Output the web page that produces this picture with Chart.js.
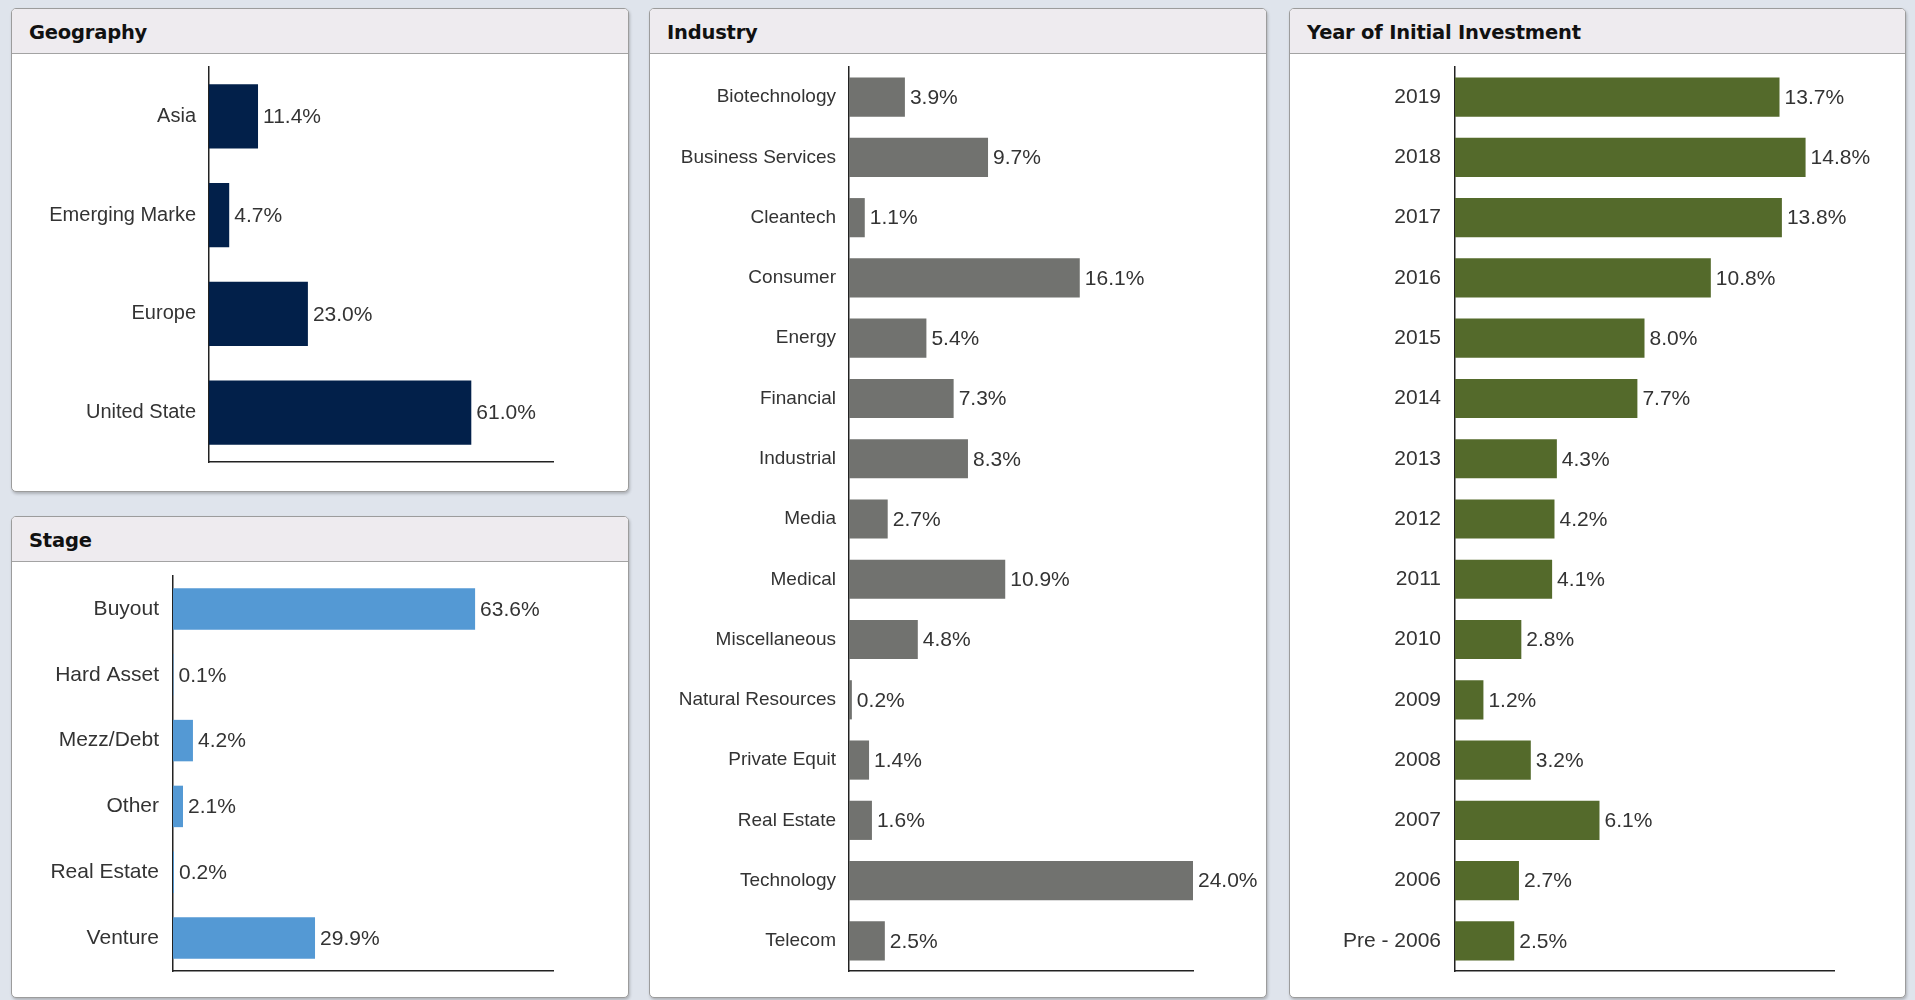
<!DOCTYPE html>
<html>
<head>
<meta charset="utf-8">
<script src="https://cdn.jsdelivr.net/npm/chart.js@4/dist/chart.umd.min.js"></script>
<style>
  html, body { margin: 0; padding: 0; }
  body { width: 1915px; height: 1000px; background: #dfe4ec; position: relative; overflow: hidden; font-family: "Liberation Sans", Arial, sans-serif; }
  .panel { position: absolute; box-sizing: border-box; background: #fff; border: 1px solid #9c9c9c; border-radius: 5px; box-shadow: 1px 2px 3px rgba(0,0,0,0.22); overflow: hidden; }
  .panel .head { position: absolute; left: 0; top: 0; right: 0; height: 44px; background: #eeebef; border-bottom: 1px solid #a3a3a3; }
  .panel .head span { position: absolute; left: 17px; top: 12px; font: bold 19.5px "DejaVu Sans", sans-serif; color: #111; letter-spacing: -0.2px; }
  .panel canvas { position: absolute; left: 0; top: 45px; }
</style>
</head>
<body>

<div class="panel" style="left:11px; top:8px; width:618px; height:484px;">
  <div class="head"><span>Geography</span></div>
  <canvas id="geoChart" width="616" height="437"></canvas>
</div>

<div class="panel" style="left:11px; top:516px; width:618px; height:482px;">
  <div class="head"><span>Stage</span></div>
  <canvas id="stageChart" width="616" height="435"></canvas>
</div>

<div class="panel" style="left:649px; top:8px; width:618px; height:990px;">
  <div class="head"><span>Industry</span></div>
  <canvas id="industryChart" width="616" height="943"></canvas>
</div>

<div class="panel" style="left:1289px; top:8px; width:617px; height:990px;">
  <div class="head"><span>Year of Initial Investment</span></div>
  <canvas id="yearChart" width="615" height="943"></canvas>
</div>

<script>
// data
const geoCategories = ['Asia', 'Emerging Marke', 'Europe', 'United State'];
const geoValues = [11.4, 4.7, 23.0, 61.0];

const stageCategories = ['Buyout', 'Hard Asset', 'Mezz/Debt', 'Other', 'Real Estate', 'Venture'];
const stageValues = [63.6, 0.1, 4.2, 2.1, 0.2, 29.9];

const industryCategories = ['Biotechnology', 'Business Services', 'Cleantech', 'Consumer', 'Energy',
    'Financial', 'Industrial', 'Media', 'Medical', 'Miscellaneous', 'Natural Resources',
    'Private Equit', 'Real Estate', 'Technology', 'Telecom'];
const industryValues = [3.9, 9.7, 1.1, 16.1, 5.4, 7.3, 8.3, 2.7, 10.9, 4.8, 0.2, 1.4, 1.6, 24.0, 2.5];

const yearCategories = ['2019', '2018', '2017', '2016', '2015', '2014', '2013', '2012', '2011',
    '2010', '2009', '2008', '2007', '2006', 'Pre - 2006'];
const yearValues = [13.7, 14.8, 13.8, 10.8, 8.0, 7.7, 4.3, 4.2, 4.1, 2.8, 1.2, 3.2, 6.1, 2.7, 2.5];

// draws "12.3%" just past the end of each bar
const valueLabels = {
    id: 'valueLabels',
    afterDatasetsDraw(chart) {
        const ctx = chart.ctx;
        const meta = chart.getDatasetMeta(0);
        const values = chart.data.datasets[0].data;
        ctx.save();
        ctx.font = '21px "Liberation Sans", Arial, sans-serif';
        ctx.fillStyle = '#333';
        ctx.textBaseline = 'middle';
        ctx.textAlign = 'left';
        meta.data.forEach(function (bar, i) {
            ctx.fillText(values[i].toFixed(1) + '%', bar.x + 5, bar.y + 1);
        });
        ctx.restore();
    }
};

function makeBarChart(id, labels, values, opts) {
    return new Chart(document.getElementById(id), {
        type: 'bar',
        data: {
            labels: labels,
            datasets: [{
                data: values,
                backgroundColor: opts.color,
                borderWidth: 0,
                barPercentage: opts.barPct,
                categoryPercentage: 1
            }]
        },
        options: {
            indexAxis: 'y',
            responsive: false,
            animation: false,
            devicePixelRatio: 1,
            layout: { padding: { left: 0, top: opts.top, right: opts.right, bottom: opts.bottom } },
            plugins: { legend: { display: false }, tooltip: { enabled: false } },
            scales: {
                x: {
                    min: 0,
                    max: opts.max,
                    ticks: { display: false },
                    grid: { display: false, drawTicks: false },
                    border: { display: true, color: '#222', width: 1.5 }
                },
                y: {
                    ticks: {
                        color: '#333',
                        padding: opts.labelPad,
                        font: { family: '"Liberation Sans", Arial, sans-serif', size: opts.labelSize }
                    },
                    grid: { display: false, drawTicks: false },
                    border: { display: true, color: '#222', width: 1.5 },
                    afterFit: function (scale) {
                        // fixed label column, and no extra room for the end labels
                        scale.width = opts.axisX;
                        scale.paddingTop = 0;
                        scale.paddingBottom = 0;
                    }
                }
            }
        },
        plugins: [valueLabels]
    });
}

makeBarChart('geoChart', geoCategories, geoValues, {
    color: '#02204a', barPct: 0.65, max: 80,
    axisX: 197, right: 75, top: 13, bottom: 29, labelPad: 13, labelSize: 20
});

makeBarChart('stageChart', stageCategories, stageValues, {
    color: '#5499d4', barPct: 0.63, max: 80,
    axisX: 161, right: 75, top: 14, bottom: 26, labelPad: 14, labelSize: 21
});

makeBarChart('industryChart', industryCategories, industryValues, {
    color: '#71726f', barPct: 0.65, max: 24,
    axisX: 199, right: 73, top: 13, bottom: 26, labelPad: 13, labelSize: 19
});

makeBarChart('yearChart', yearCategories, yearValues, {
    color: '#546a2b', barPct: 0.65, max: 16,
    axisX: 165, right: 71, top: 13, bottom: 26, labelPad: 14, labelSize: 21
});
</script>
</body>
</html>
